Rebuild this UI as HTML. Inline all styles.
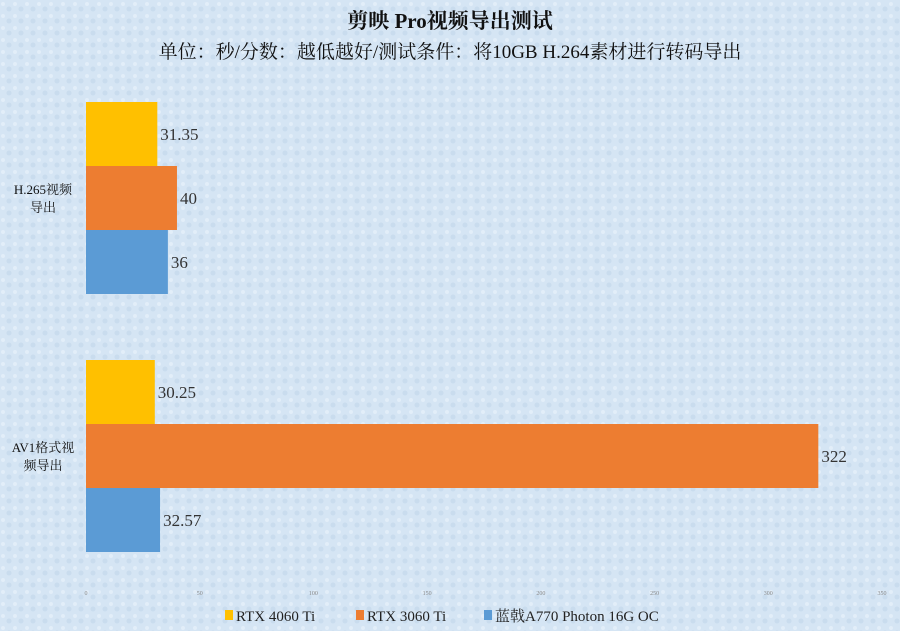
<!DOCTYPE html>
<html><head><meta charset="utf-8"><style>
body{margin:0;width:900px;height:631px;overflow:hidden;background:#d5e5f4;font-family:"Liberation Serif","Noto Serif CJK SC",serif;}
svg{display:block}
</style></head><body>
<svg id="c" width="900" height="631">
<defs><pattern id="tex" width="12" height="12" patternUnits="userSpaceOnUse"><rect width="12" height="12" fill="#d5e5f4"/><circle cx="3" cy="4" r="2" fill="#e2eef9"/><circle cx="9" cy="9" r="2.5" fill="#c9dcee"/></pattern></defs>
<rect width="900" height="631" fill="url(#tex)"/>
<text x="450" y="28" text-anchor="middle" font-size="21" font-weight="bold" fill="#111" font-family="Liberation Serif,Noto Serif CJK SC,serif">剪映 Pro视频导出测试</text>
<text x="450" y="58" text-anchor="middle" font-size="19" fill="#111" font-family="Liberation Serif,Noto Serif CJK SC,serif">单位：秒/分数：越低越好/测试条件：将10GB H.264素材进行转码导出</text>
<g id="plot"></g>
<g>
<rect x="225" y="610" width="8" height="10" fill="#ffc000"/>
<text x="236" y="621" font-size="15" fill="#222">RTX 4060 Ti</text>
<rect x="356" y="610" width="8" height="10" fill="#ed7d31"/>
<text x="367" y="621" font-size="15" fill="#222">RTX 3060 Ti</text>
<rect x="484" y="610" width="8" height="10" fill="#5b9bd5"/>
<text x="495" y="621" font-size="15" fill="#222">蓝戟A770 Photon 16G OC</text>
</g>
</svg>
<script>
const categories=[["H.265视频","导出"],["AV1格式视","频导出"]];
const seriesNames=["RTX 4060 Ti","RTX 3060 Ti","蓝戟A770 Photon 16G OC"];
const rtx4060=[31.35,30.25];
const rtx3060=[40,322];
const a770=[36,32.57];
const labels4060=["31.35","30.25"];
const labels3060=["40","322"];
const labelsA770=["36","32.57"];
const ticks=[0,50,100,150,200,250,300,350];
const colors=["#ffc000","#ed7d31","#5b9bd5"];
const NS="http://www.w3.org/2000/svg";
const x0=86,x1=882,xmax=350,plotTop=69,plotBottom=585;
const xs=v=>x0+v/xmax*(x1-x0);
const band=(plotBottom-plotTop)/categories.length;
const bh=64;
const g=document.getElementById('plot');
function mk(t,a){const e=document.createElementNS(NS,t);for(const k in a)e.setAttribute(k,a[k]);g.appendChild(e);return e;}
const series=[rtx4060,rtx3060,a770],labs=[labels4060,labels3060,labelsA770];
categories.forEach((c,i)=>{
 const cy=plotTop+band*(i+0.5);
 c.forEach((ln,j)=>{const t=mk('text',{x:43,y:cy-4+j*18,'text-anchor':'middle','font-size':13,fill:'#111'});t.textContent=ln;
 
 });
 series.forEach((s,k)=>{
  const y=cy-1.5*bh+k*bh;
  const r=mk('rect',{x:x0,y:y,width:xs(s[i])-x0,height:bh,fill:colors[k]});
  
  
  const t=mk('text',{x:xs(s[i])+3,y:y+bh/2+6,'font-size':17,fill:'#333'});t.textContent=labs[k][i];
  
  
 });
});
ticks.forEach(v=>{const t=mk('text',{x:xs(v),y:595,'text-anchor':'middle','font-size':6,fill:'#888'});t.textContent=v;
 
 });
</script>
</body></html>
